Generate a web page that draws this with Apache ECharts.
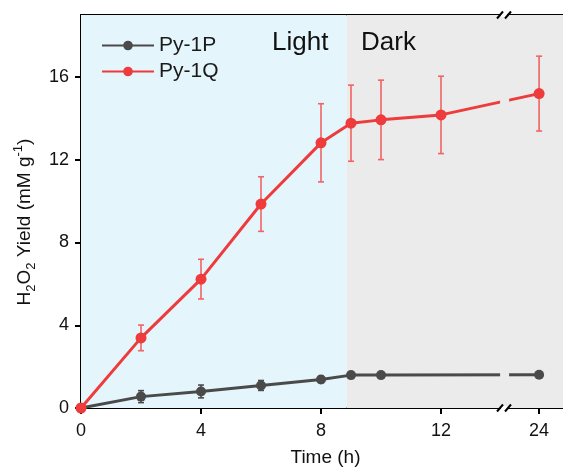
<!DOCTYPE html>
<html>
<head>
<meta charset="utf-8">
<script src="https://cdn.jsdelivr.net/npm/echarts@6/dist/echarts.min.js"></script>
<style>html,body{margin:0;padding:0;background:#fff;}#c{width:563px;height:470px;}</style>
</head>
<body>
<div id="c"></div>
<script>
// ---- data (hours) ----
const hoursQ = [0, 2, 4, 6, 8, 9, 10, 12, 24];
const py1Q = [0, 3.39, 6.23, 9.86, 12.82, 13.77, 13.93, 14.17, 15.2];
const py1QErr = [0, 0.62, 0.96, 1.32, 1.89, 1.84, 1.92, 1.87, 1.81];
const hoursP = [0, 2, 4, 6, 8, 9, 10, 24];
const py1P = [0, 0.55, 0.80, 1.09, 1.38, 1.59, 1.59, 1.61];
const py1PErr = [0, 0.29, 0.31, 0.24, 0.15, 0.1, 0.1, 0.12];
const xTickHours = [0, 4, 8, 12, 24];
const yTicks = [0, 4, 8, 12, 16];
const lightEnd = 8.85;

// broken axis: hours after the break are shifted left
const BREAK_SHIFT = 8.73;
const toAxis = t => (t > 13 ? t - BREAK_SHIFT : t);
const fromAxis = v => (v > 13 ? Math.round(v + BREAK_SHIFT) : v);
const BREAK_AT = 14.1, GAP_FROM = 13.97, GAP_TO = 14.27;
const X_MAX = 16.3;

const RED = '#ee3b3b', RED_ERR = '#f06464', GRAY = '#4a4a4a', GRAY_ERR = '#4a4a4a';
const FONT = 'Liberation Sans, Arial, sans-serif';

const chart = echarts.init(document.getElementById('c'), null, {renderer: 'canvas'});

function errSeries(hours, vals, errs, color, name) {
  return {
    type: 'custom', name: name, z: 3, silent: true,
    data: hours.map((h, i) => [toAxis(h), vals[i], errs[i]]),
    renderItem: function (params, api) {
      const x = api.value(0), y = api.value(1), e = api.value(2);
      if (!e) return null;
      const t = api.coord([x, y + e]), b = api.coord([x, y - e]);
      const hw = 3;
      const st = {stroke: color, lineWidth: 1.6};
      return {type: 'group', children: [
        {type: 'line', shape: {x1: t[0], y1: t[1], x2: b[0], y2: b[1]}, style: st},
        {type: 'line', shape: {x1: t[0] - hw, y1: t[1], x2: t[0] + hw, y2: t[1]}, style: st},
        {type: 'line', shape: {x1: b[0] - hw, y1: b[1], x2: b[0] + hw, y2: b[1]}, style: st}
      ]};
    }
  };
}

const option = {
  animation: false,
  textStyle: {fontFamily: FONT},
  grid: {left: 81, top: 15, width: 489, height: 393, containLabel: false, outerBoundsMode: 'none'},
  legend: {
    orient: 'vertical', left: 96, top: 30, itemWidth: 52, itemHeight: 12, itemGap: 5,
    textStyle: {fontSize: 21, color: '#1a1a1a', fontFamily: FONT},
    data: ['Py-1P', 'Py-1Q']
  },
  xAxis: [{
    type: 'value', min: 0, max: X_MAX, position: 'bottom',
    name: 'Time (h)', nameLocation: 'middle', nameGap: 40,
    nameTextStyle: {fontSize: 19, color: '#111', fontFamily: FONT},
    axisLine: {show: true, onZero: false, lineStyle: {color: '#000', width: 2}},
    axisTick: {show: true, inside: false, length: 6, lineStyle: {color: '#000', width: 2},
      customValues: xTickHours.map(toAxis)},
    axisLabel: {fontSize: 18, color: '#111', margin: 14, fontFamily: FONT,
      customValues: xTickHours.map(toAxis), formatter: v => String(fromAxis(v))},
    splitLine: {show: false}
  }, {
    type: 'value', min: 0, max: X_MAX, position: 'top',
    axisLine: {show: true, onZero: false, lineStyle: {color: '#000', width: 2}},
    axisTick: {show: false}, axisLabel: {show: false}, splitLine: {show: false}
  }],
  yAxis: {
    type: 'value', min: 0, max: 19,
    axisLine: {show: true, onZero: false, lineStyle: {color: '#000', width: 2}},
    axisTick: {show: true, inside: false, length: 6, lineStyle: {color: '#000', width: 2}, customValues: yTicks},
    axisLabel: {fontSize: 18, color: '#111', margin: 12, fontFamily: FONT, customValues: yTicks},
    splitLine: {show: false}
  },
  series: [
    {
      type: 'line', name: 'bg', data: [], z: 0, silent: true,
      markArea: {
        silent: true,
        data: [
          [{xAxis: 0, itemStyle: {color: '#e5f5fc'}}, {xAxis: lightEnd}],
          [{xAxis: lightEnd, itemStyle: {color: '#ebebeb'}}, {xAxis: X_MAX}]
        ]
      }
    },
    errSeries(hoursP, py1P, py1PErr, GRAY_ERR, 'errP'),
    errSeries(hoursQ, py1Q, py1QErr, RED_ERR, 'errQ'),
    {
      type: 'line', name: 'Py-1P', z: 4,
      data: hoursP.map((h, i) => [toAxis(h), py1P[i]]),
      symbol: 'circle', symbolSize: 10, showSymbol: true,
      lineStyle: {color: GRAY, width: 3}, itemStyle: {color: GRAY}
    },
    {
      type: 'line', name: 'Py-1Q', z: 5,
      data: hoursQ.map((h, i) => [toAxis(h), py1Q[i]]),
      symbol: 'circle', symbolSize: 11, showSymbol: true,
      lineStyle: {color: RED, width: 3}, itemStyle: {color: RED}
    }
  ]
};
chart.setOption(option);

// decorations: axis break marks and the gap in the lines, placed via the axis scale
const px = v => chart.convertToPixel({xAxisIndex: 0}, v);
const py = v => chart.convertToPixel({yAxisIndex: 0}, v);
const xb = px(BREAK_AT), g0 = px(GAP_FROM), g1 = px(GAP_TO);
const yTop = py(19), yBot = py(0);
function slashes(y) {
  return [
    {type: 'rect', shape: {x: xb - 3, y: y - 2, width: 6, height: 4}, style: {fill: '#fff'}, z: 100},
    {type: 'line', shape: {x1: xb - 7, y1: y + 3.5, x2: xb - 1, y2: y - 3.5}, style: {stroke: '#000', lineWidth: 2}, z: 101},
    {type: 'line', shape: {x1: xb + 1, y1: y + 3.5, x2: xb + 7, y2: y - 3.5}, style: {stroke: '#000', lineWidth: 2}, z: 101}
  ];
}
const yTitle = {
  type: 'text', x: 25, y: 222, rotation: Math.PI / 2, z: 100,
  style: {
    text: '{b|H}{s|2}{b|O}{s|2}{b| Yield (mM g}{p|-1}{b|)}',
    align: 'center', verticalAlign: 'middle', fill: '#111',
    rich: {
      b: {fontSize: 19, fontFamily: FONT, lineHeight: 26, fill: '#111'},
      s: {fontSize: 13, fontFamily: FONT, lineHeight: 13, verticalAlign: 'bottom', fill: '#111'},
      p: {fontSize: 13, fontFamily: FONT, lineHeight: 13, verticalAlign: 'top', fill: '#111'}
    }
  }
};
const texts = [
  {type: 'text', x: 272, y: 43, z: 100, style: {text: 'Light', fontSize: 26, fontFamily: FONT, fill: '#111', verticalAlign: 'middle'}},
  {type: 'text', x: 361, y: 43, z: 100, style: {text: 'Dark', fontSize: 26, fontFamily: FONT, fill: '#111', verticalAlign: 'middle'}}
];
chart.setOption({
  graphic: {elements: [
    {type: 'rect', shape: {x: g0, y: yTop + 2, width: g1 - g0, height: yBot - yTop - 4}, style: {fill: '#ebebeb'}, z: 50},
    ...slashes(yTop), ...slashes(yBot), yTitle, ...texts
  ]}
});
</script>
</body>
</html>
